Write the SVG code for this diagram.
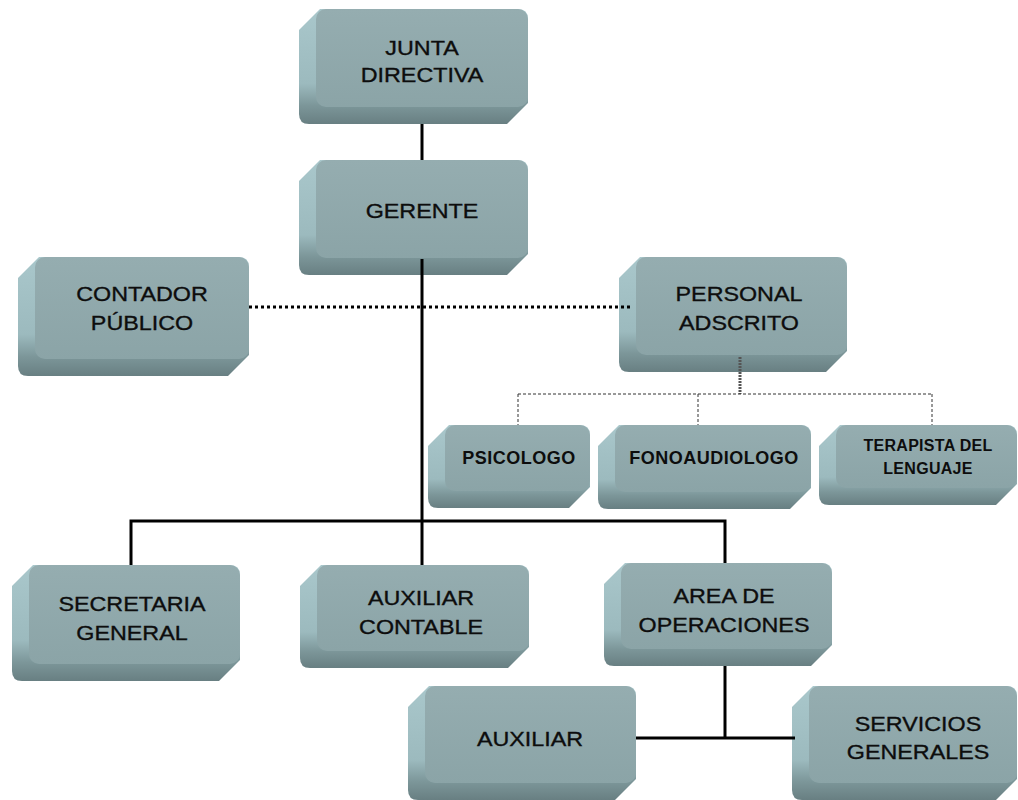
<svg xmlns="http://www.w3.org/2000/svg" width="1018" height="800" viewBox="0 0 1018 800">
<defs>
<linearGradient id="side" x1="0" y1="0" x2="0" y2="1">
<stop offset="0" stop-color="#a9c7cb"/>
<stop offset="0.65" stop-color="#9cbabe"/>
<stop offset="0.84" stop-color="#7c9699"/>
<stop offset="1" stop-color="#687f82"/>
</linearGradient>
<linearGradient id="face" x1="0" y1="0" x2="0" y2="1">
<stop offset="0" stop-color="#95adb0"/>
<stop offset="1" stop-color="#8ba4a7"/>
</linearGradient>
</defs>
<style>
.side{fill:url(#side)}
.face{fill:url(#face)}
.t{font-family:"Liberation Sans",Arial,sans-serif;font-size:21px;fill:#0d0d0d;stroke:#0d0d0d;stroke-width:0.35px;text-anchor:middle}
.s{font-family:"Liberation Sans",Arial,sans-serif;font-size:18px;font-weight:bold;letter-spacing:0.5px;fill:#0d0d0d;text-anchor:middle}
.s2{font-family:"Liberation Sans",Arial,sans-serif;font-size:16px;font-weight:bold;letter-spacing:0.3px;fill:#0d0d0d;text-anchor:middle}
.c{stroke:#000;stroke-width:3;fill:none}
.dot{stroke:#000;stroke-width:3;stroke-dasharray:3 3;fill:none}
.thin{stroke:#333;stroke-width:1;stroke-dasharray:3 2;fill:none}
</style>
<rect width="1018" height="800" fill="#fff"/>
<g id="junta">
<path class="side" d="M 343 9 H 518 Q 528 9 528 19 V 103 L 507 124 H 309 Q 299 124 299 114 V 30 L 320 9 Z"/>
<rect class="face" x="316" y="9" width="212" height="98" rx="10"/>
<text class="t" transform="translate(422 0) scale(1.11 1)" x="0" y="55">JUNTA</text>
<text class="t" transform="translate(422 0) scale(1.11 1)" x="0" y="82">DIRECTIVA</text>
</g>
<g id="gerente">
<path class="side" d="M 343 160 H 518 Q 528 160 528 170 V 254 L 507 275 H 309 Q 299 275 299 265 V 181 L 320 160 Z"/>
<rect class="face" x="316" y="160" width="212" height="98" rx="10"/>
<text class="t" transform="translate(422 0) scale(1.11 1)" x="0" y="218">GERENTE</text>
</g>
<g id="contador">
<path class="side" d="M 62 257 H 239 Q 249 257 249 267 V 355 L 228 376 H 28 Q 18 376 18 366 V 278 L 39 257 Z"/>
<rect class="face" x="35" y="257" width="214" height="102" rx="10"/>
<text class="t" transform="translate(142 0) scale(1.11 1)" x="0" y="301">CONTADOR</text>
<text class="t" transform="translate(142 0) scale(1.11 1)" x="0" y="330">PÚBLICO</text>
</g>
<g id="personal">
<path class="side" d="M 663 257 H 837 Q 847 257 847 267 V 351 L 826 372 H 629 Q 619 372 619 362 V 278 L 640 257 Z"/>
<rect class="face" x="636" y="257" width="211" height="98" rx="10"/>
<text class="t" transform="translate(739 0) scale(1.11 1)" x="0" y="301">PERSONAL</text>
<text class="t" transform="translate(739 0) scale(1.11 1)" x="0" y="330">ADSCRITO</text>
</g>
<g id="psicologo">
<path class="side" d="M 472 425 H 580 Q 590 425 590 435 V 487 L 569 508 H 438 Q 428 508 428 498 V 446 L 449 425 Z"/>
<rect class="face" x="445" y="425" width="145" height="66" rx="10"/>
<text class="s" x="519" y="464">PSICOLOGO</text>
</g>
<g id="fonoaudiologo">
<path class="side" d="M 642 425 H 801 Q 811 425 811 435 V 488 L 790 509 H 608 Q 598 509 598 499 V 446 L 619 425 Z"/>
<rect class="face" x="615" y="425" width="196" height="67" rx="10"/>
<text class="s" x="714" y="464">FONOAUDIOLOGO</text>
</g>
<g id="terapista">
<path class="side" d="M 863 425 H 1007 Q 1017 425 1017 435 V 484 L 996 505 H 829 Q 819 505 819 495 V 446 L 840 425 Z"/>
<rect class="face" x="836" y="425" width="181" height="63" rx="10"/>
<text class="s2" x="928" y="451">TERAPISTA DEL</text>
<text class="s2" x="928" y="474">LENGUAJE</text>
</g>
<g id="secretaria">
<path class="side" d="M 56 565 H 230 Q 240 565 240 575 V 660 L 219 681 H 22 Q 12 681 12 671 V 586 L 33 565 Z"/>
<rect class="face" x="29" y="565" width="211" height="99" rx="10"/>
<text class="t" transform="translate(132 0) scale(1.11 1)" x="0" y="611">SECRETARIA</text>
<text class="t" transform="translate(132 0) scale(1.11 1)" x="0" y="640">GENERAL</text>
</g>
<g id="auxiliar-contable">
<path class="side" d="M 344 565 H 519 Q 529 565 529 575 V 647 L 508 668 H 310 Q 300 668 300 658 V 586 L 321 565 Z"/>
<rect class="face" x="317" y="565" width="212" height="86" rx="10"/>
<text class="t" transform="translate(421 0) scale(1.11 1)" x="0" y="605">AUXILIAR</text>
<text class="t" transform="translate(421 0) scale(1.11 1)" x="0" y="634">CONTABLE</text>
</g>
<g id="area-operaciones">
<path class="side" d="M 648 563 H 822 Q 832 563 832 573 V 645 L 811 666 H 614 Q 604 666 604 656 V 584 L 625 563 Z"/>
<rect class="face" x="621" y="563" width="211" height="86" rx="10"/>
<text class="t" transform="translate(724 0) scale(1.11 1)" x="0" y="603">AREA DE</text>
<text class="t" transform="translate(724 0) scale(1.11 1)" x="0" y="632">OPERACIONES</text>
</g>
<g id="auxiliar">
<path class="side" d="M 452 686 H 626 Q 636 686 636 696 V 779 L 615 800 H 418 Q 408 800 408 790 V 707 L 429 686 Z"/>
<rect class="face" x="425" y="686" width="211" height="97" rx="10"/>
<text class="t" transform="translate(530 0) scale(1.11 1)" x="0" y="746">AUXILIAR</text>
</g>
<g id="servicios">
<path class="side" d="M 836 686 H 1007 Q 1017 686 1017 696 V 779 L 996 800 H 802 Q 792 800 792 790 V 707 L 813 686 Z"/>
<rect class="face" x="809" y="686" width="208" height="97" rx="10"/>
<text class="t" transform="translate(918 0) scale(1.11 1)" x="0" y="731">SERVICIOS</text>
<text class="t" transform="translate(918 0) scale(1.11 1)" x="0" y="759">GENERALES</text>
</g>
<g id="connectors">
<line class="c" x1="422" y1="124" x2="422" y2="160"/>
<line class="c" x1="422" y1="259" x2="422" y2="565"/>
<polyline class="c" points="131,565 131,521 725,521 725,563"/>
<line class="dot" x1="249" y1="307" x2="633" y2="307"/>
<line x1="740" y1="357" x2="740" y2="394" stroke="#555" stroke-width="3" stroke-dasharray="2 1"/>
<line class="thin" x1="518" y1="394" x2="932" y2="394"/>
<line class="thin" x1="518" y1="394" x2="518" y2="425"/>
<line class="thin" x1="698" y1="394" x2="698" y2="425"/>
<line class="thin" x1="932" y1="394" x2="932" y2="425"/>
<line class="c" x1="725" y1="666" x2="725" y2="738"/>
<line class="c" x1="636" y1="738" x2="795" y2="738"/>
</g>
</svg>
